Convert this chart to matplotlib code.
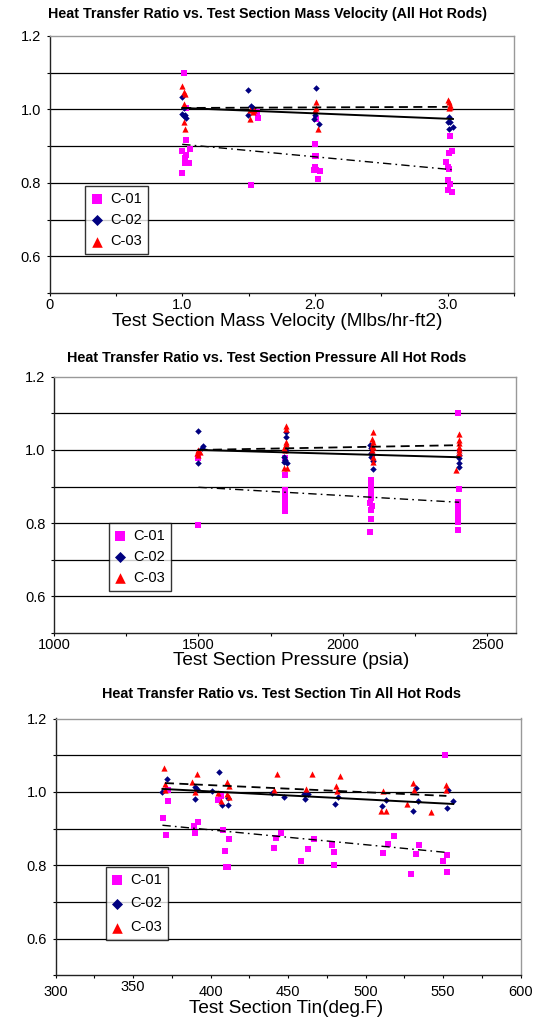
import numpy as np
import matplotlib
matplotlib.use("Agg")
import matplotlib.pyplot as plt

plt.rcParams['font.family'] = ['Liberation Sans', 'DejaVu Sans']

# ---- panel 1: mass velocity (Mlbs/hr-ft2)
g_c01_x = [1.01, 1.03, 1.03, 1.00, 1.06, 1.03, 1.02, 1.02, 1.05, 1.00,
           1.565, 1.57, 1.515,
           2.01, 2.00, 2.00, 2.01, 2.00, 2.01, 2.04, 1.99, 2.02,
           3.02, 3.03, 3.01, 2.99, 3.00, 3.01, 3.00, 3.02, 3.00, 3.03]
g_c01_y = [1.100, 1.003, 0.916, 0.886, 0.892, 0.877, 0.868, 0.853, 0.853, 0.827,
           0.992, 0.977, 0.794,
           0.975, 0.905, 0.874, 0.874, 0.844, 0.835, 0.832, 0.835, 0.810,
           0.928, 0.886, 0.880, 0.857, 0.844, 0.837, 0.807, 0.798, 0.780, 0.774]
g_c02_x = [1.00, 1.01, 1.00, 1.02, 1.03, 1.01,
           1.495, 1.52, 1.53, 1.495,
           2.01, 2.00, 1.99, 2.03,
           3.01, 3.00, 3.02, 3.04, 3.01]
g_c02_y = [1.034, 1.005, 0.988, 0.985, 0.977, 0.983,
           1.053, 1.010, 1.005, 0.986,
           1.059, 0.986, 0.975, 0.959,
           0.980, 0.965, 0.965, 0.953, 0.948]
g_c03_x = [1.00, 1.01, 1.02, 1.01, 1.01, 1.02,
           1.51, 1.53, 1.54, 1.51,
           2.01, 2.01, 2.00, 2.02,
           3.00, 3.01, 3.02, 3.01, 3.02]
g_c03_y = [1.064, 1.048, 1.041, 1.014, 0.965, 0.946,
           0.975, 0.994, 0.998, 0.998,
           1.021, 1.005, 0.998, 0.948,
           1.025, 1.019, 1.012, 1.003, 1.007]
g_trend_x = {'C-01': [1.0, 3.03], 'C-02': [1.0, 3.04], 'C-03': [1.0, 3.0]}
g_trend_y = {'C-01': [0.905, 0.836], 'C-02': [1.004, 0.974], 'C-03': [1.004, 1.007]}

# ---- panel 2: pressure (psia)
p_c01_x = [1500, 1500,
           1800, 1800, 1800, 1800, 1800, 1800, 1800, 1800,
           2098, 2098, 2098, 2098, 2098, 2095, 2101, 2098, 2098, 2095,
           2398, 2403, 2398, 2398, 2398, 2398, 2398, 2398, 2398]
p_c01_y = [0.977, 0.795,
           0.977, 0.931, 0.890, 0.879, 0.870, 0.858, 0.847, 0.834,
           0.918, 0.908, 0.890, 0.880, 0.870, 0.856, 0.846, 0.835, 0.810, 0.775,
           1.100, 0.892, 0.858, 0.847, 0.836, 0.826, 0.816, 0.804, 0.781]
p_c02_x = [1500, 1515, 1512, 1500,
           1804, 1804, 1804, 1795, 1797, 1806, 1800,
           2093, 2097, 2097, 2101, 2097, 2103, 2103,
           2403, 2401, 2403, 2403, 2403]
p_c02_y = [1.053, 1.011, 1.005, 0.965,
           1.049, 1.034, 1.000, 0.982, 0.967, 0.963, 0.972,
           1.013, 1.006, 0.992, 0.986, 0.980, 0.971, 0.948,
           1.000, 0.986, 0.977, 0.963, 0.954]
p_c03_x = [1500, 1506, 1496, 1500,
           1804, 1804, 1804, 1804, 1795, 1800, 1795, 1806,
           2103, 2101, 2103, 2101, 2103, 2101, 2103, 2103,
           2401, 2401, 2401, 2401, 2401, 2401, 2392]
p_c03_y = [1.000, 0.995, 0.992, 0.986,
           1.065, 1.056, 1.022, 1.016, 1.004, 1.001, 0.950, 0.950,
           1.048, 1.029, 1.023, 1.012, 1.009, 1.000, 0.982, 0.968,
           1.043, 1.027, 1.018, 1.009, 1.000, 0.992, 0.945]
p_trend_x = {'C-01': [1500, 2403], 'C-02': [1500, 2403], 'C-03': [1500, 2403]}
p_trend_y = {'C-01': [0.898, 0.857], 'C-02': [1.000, 0.980], 'C-03': [1.000, 1.013]}

# ---- panel 3: inlet temperature (deg F)
t_c01_x = [372.4, 372.4, 369.6, 371.1, 392.2, 389.6, 390.0, 408.3, 411.9, 409.4,
           409.8, 411.5, 405.0, 407.0, 442.0, 445.5, 441.0, 462.7, 458.4, 467.0,
           478.4, 479.9, 479.9, 518.6, 514.7, 511.5, 534.5, 532.6, 529.5, 552.8,
           550.2, 552.8, 551.3]
t_c01_y = [1.004, 0.976, 0.929, 0.883, 0.917, 0.907, 0.889, 0.895, 0.872, 0.838,
           0.795, 0.795, 0.977, 0.990, 0.873, 0.888, 0.846, 0.845, 0.811, 0.871,
           0.855, 0.835, 0.800, 0.881, 0.858, 0.833, 0.855, 0.832, 0.775, 0.828,
           0.812, 0.781, 1.100]
t_c02_x = [371.9, 368.9, 390.0, 391.0, 405.7, 390.0, 400.8, 411.5, 407.2, 411.5,
           439.5, 447.6, 460.5, 463.1, 461.2, 482.5, 480.3, 510.8, 513.2, 532.6,
           534.0, 530.8, 553.4, 556.6, 552.8]
t_c02_y = [1.035, 1.000, 1.013, 1.007, 1.054, 0.980, 1.003, 0.983, 0.965, 0.965,
           0.996, 0.985, 0.995, 0.993, 0.981, 0.985, 0.967, 0.962, 0.978, 1.010,
           0.974, 0.949, 1.004, 0.976, 0.955]
t_c03_x = [370.2, 391.1, 388.3, 370.6, 370.4, 410.4, 411.9, 390.0, 405.0, 410.4,
           406.8, 411.9, 443.1, 465.3, 441.2, 461.6, 483.5, 480.9, 481.4, 511.5,
           530.8, 531.5, 552.0, 551.8, 527.0, 510.0, 513.0, 542.5]
t_c03_y = [1.065, 1.048, 1.027, 1.022, 1.005, 1.027, 1.015, 1.000, 0.996, 0.994,
           0.976, 0.987, 1.049, 1.049, 1.005, 1.009, 1.044, 1.016, 1.003, 1.003,
           1.024, 1.005, 1.020, 1.004, 0.967, 0.949, 0.949, 0.945]
t_trend_x = {'C-01': [369, 552], 'C-02': [369, 556.6], 'C-03': [370.6, 552.2]}
t_trend_y = {'C-01': [0.909, 0.835], 'C-02': [1.008, 0.967], 'C-03': [1.024, 0.989]}

W, H = 540, 1021
fig = plt.figure(figsize=(W / 100, H / 100), dpi=100)


def px_axes(l, t, r, b):
    return fig.add_axes([l / W, 1 - b / H, (r - l) / W, (b - t) / H])


def style_axes(ax, xlim, xticks, xlabels, xpad=1.5):
    ax.set_xlim(*xlim)
    ax.set_ylim(0.5, 1.2)
    ax.set_xticks(xticks)
    ax.set_xticklabels(xlabels)
    ax.set_yticks(np.arange(0.5, 1.21, 0.1))
    ax.set_yticklabels(['', '0.6', '', '0.8', '', '1.0', '', '1.2'])
    for y in [0.6, 0.7, 0.8, 0.9, 1.0, 1.1]:
        ax.axhline(y, color='black', lw=0.9, zorder=1)
    ax.spines['left'].set_color('#222222')
    ax.spines['bottom'].set_color('#222222')
    ax.spines['top'].set_color('#999999')
    ax.spines['right'].set_color('#999999')
    for s in ax.spines.values():
        s.set_linewidth(1.0)
    ax.tick_params(axis='both', direction='out', length=2.2, width=0.8,
                   labelsize=10.5)
    ax.tick_params(axis='x', pad=xpad)
    ax.tick_params(axis='y', pad=4)


def draw(ax, c01x, c01y, c02x, c02y, c03x, c03y, tx, ty, leg_box, spacing):
    ax.scatter(c01x, c01y, marker='s', s=16, color='#FF00FF', lw=0,
               label='C-01', zorder=3)
    ax.scatter(c02x, c02y, marker='D', s=11, color='#000080', lw=0,
               label='C-02', zorder=3)
    ax.scatter(c03x, c03y, marker='^', s=20, color='#FF0000', lw=0,
               label='C-03', zorder=3)
    ax.plot(tx['C-01'], ty['C-01'], color='black', lw=1.0,
            dashes=(6, 3, 1.2, 3), zorder=4)
    ax.plot(tx['C-02'], ty['C-02'], color='black', lw=1.4, zorder=4)
    ax.plot(tx['C-03'], ty['C-03'], color='black', lw=1.3,
            dashes=(5, 3), zorder=4)
    l, t = leg_box
    leg = ax.legend(loc='upper left', bbox_to_anchor=(l / W, 1 - t / H),
                    bbox_transform=fig.transFigure, frameon=True,
                    fancybox=False, shadow=False, fontsize=10.5,
                    markerscale=1.7, handlelength=0.8, handletextpad=0.5,
                    borderpad=0.4, labelspacing=spacing, borderaxespad=0)
    leg.get_frame().set_edgecolor('black')
    leg.get_frame().set_linewidth(1.0)
    leg.set_zorder(5)


# panel 1
ax1 = px_axes(49.5, 36, 514, 293)
style_axes(ax1, (0, 3.5), np.arange(0, 3.51, 0.5),
           ['0', '', '1.0', '', '2.0', '', '3.0', ''])
draw(ax1, g_c01_x, g_c01_y, g_c02_x, g_c02_y, g_c03_x, g_c03_y,
     g_trend_x, g_trend_y, (85.4, 186), 0.5)
fig.text(268 / W, 1 - 14 / H,
         'Heat Transfer Ratio vs. Test Section Mass Velocity (All Hot Rods)',
         ha='center', va='center', fontsize=10.3, fontweight='bold')
fig.text(277 / W, 1 - 321 / H, 'Test Section Mass Velocity (Mlbs/hr-ft2)',
         ha='center', va='center', fontsize=13.7)

# panel 2
ax2 = px_axes(54.1, 376.7, 516, 633)
style_axes(ax2, (1000, 2600), np.arange(1000, 2501, 250),
           ['1000', '', '1500', '', '2000', '', '2500'])
draw(ax2, p_c01_x, p_c01_y, p_c02_x, p_c02_y, p_c03_x, p_c03_y,
     p_trend_x, p_trend_y, (108.5, 522.7), 0.5)
fig.text(266.6 / W, 1 - 358.3 / H,
         'Heat Transfer Ratio vs. Test Section Pressure All Hot Rods',
         ha='center', va='center', fontsize=10.4, fontweight='bold')
fig.text(291.5 / W, 1 - 660 / H, 'Test Section Pressure (psia)',
         ha='center', va='center', fontsize=13.7)

# panel 3
ax3 = px_axes(55.5, 718.5, 520.5, 975.3)
t_labels = ['300', '', '', '', '400', '', '450', '', '500', '', '550', '', '600']
style_axes(ax3, (300, 600), np.arange(300, 601, 25), t_labels, xpad=5.0)
ax3.text(350, -0.044, '350', transform=ax3.get_xaxis_transform(),
         ha='center', va='center', fontsize=10.5)
draw(ax3, t_c01_x, t_c01_y, t_c02_x, t_c02_y, t_c03_x, t_c03_y,
     t_trend_x, t_trend_y, (105.8, 866.7), 0.68)
fig.text(282 / W, 1 - 694 / H,
         'Heat Transfer Ratio vs. Test Section Tin All Hot Rods',
         ha='center', va='center', fontsize=10.4, fontweight='bold')
fig.text(286 / W, 1 - 1008 / H, 'Test Section Tin(deg.F)',
         ha='center', va='center', fontsize=13.7)

fig.savefig('out.png', dpi=100)
